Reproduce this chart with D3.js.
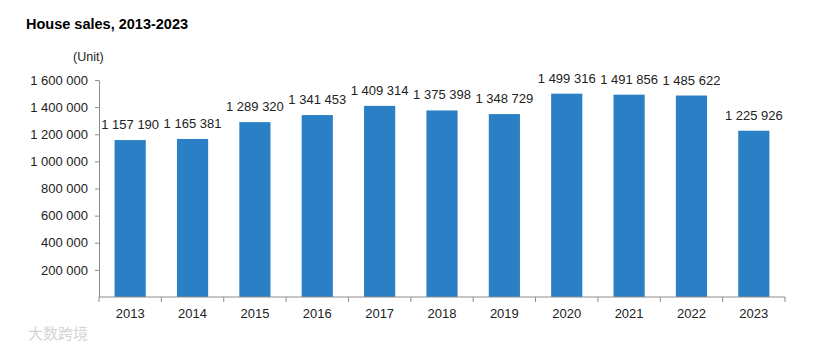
<!DOCTYPE html>
<html>
<head>
<meta charset="utf-8">
<script src="https://cdn.jsdelivr.net/npm/d3@7"></script>
<style>
	body { margin: 0; background: #fff; }
	svg { font-family: "Liberation Sans", Arial, sans-serif; }
</style>
</head>
<body>
<div id="chart"></div>
<script>
// Data
const years = ["2013", "2014", "2015", "2016", "2017", "2018", "2019", "2020", "2021", "2022", "2023"]
const sales = [1157190, 1165381, 1289320, 1341453, 1409314, 1375398, 1348729, 1499316, 1491856, 1485622, 1225926]
const yTicks = [200000, 400000, 600000, 800000, 1000000, 1200000, 1400000, 1600000]

const width = 820
const height = 351
const margin = { top: 80, right: 35, bottom: 54, left: 99 }

const fmt = (v) => d3.format(",")(v).replace(/,/g, " ")

const svg = d3
	.select("#chart")
	.append("svg")
	.attr("width", width)
	.attr("height", height)

// Title
svg.append("text")
	.attr("x", 26)
	.attr("y", 29)
	.style("font-size", "14.5px")
	.style("font-weight", "bold")
	.style("fill", "#000")
	.text("House sales, 2013-2023")

svg.append("text")
	.attr("x", 73)
	.attr("y", 61)
	.style("font-size", "12.5px")
	.style("fill", "#222")
	.text("(Unit)")

// Scales
const x = d3
	.scaleBand()
	.domain(years)
	.range([margin.left, width - margin.right])
	.paddingInner(0.5)
	.paddingOuter(0.25)

const y = d3
	.scaleLinear()
	.domain([0, 1600000])
	.range([height - margin.bottom, margin.top])

// Bars
svg.append("g")
	.selectAll("rect")
	.data(years)
	.join("rect")
	.attr("x", (d) => x(d))
	.attr("y", (d, i) => y(sales[i]))
	.attr("width", x.bandwidth())
	.attr("height", (d, i) => y(0) - y(sales[i]))
	.attr("fill", "#2b80c5")

// Value labels
svg.append("g")
	.selectAll("text")
	.data(years)
	.join("text")
	.attr("x", (d) => x(d) + x.bandwidth() / 2)
	.attr("y", (d, i) => y(sales[i]) - 11)
	.attr("text-anchor", "middle")
	.style("font-size", "13px")
	.style("fill", "#222")
	.text((d, i) => fmt(sales[i]))

// Y axis
const yAxis = svg.append("g")
	.attr("class", "y-axis")
	.attr("transform", `translate(${margin.left},0)`)
	.call(d3.axisLeft(y).tickValues(yTicks).tickSize(4).tickSizeOuter(0).tickPadding(7).tickFormat(fmt))

// X axis: ticks between categories
const step = x.step()
const xAxis = svg.append("g")
	.attr("class", "x-axis")
	.attr("transform", `translate(0,${y(0)})`)

xAxis.append("line")
	.attr("x1", margin.left)
	.attr("x2", width - margin.right)
	.attr("stroke", "#8c8c8c")

xAxis.selectAll(".tick")
	.data(d3.range(years.length + 1))
	.join("line")
	.attr("class", "tick")
	.attr("x1", (i) => margin.left + i * step)
	.attr("x2", (i) => margin.left + i * step)
	.attr("y1", 0)
	.attr("y2", 5)
	.attr("stroke", "#8c8c8c")

xAxis.selectAll("text")
	.data(years)
	.join("text")
	.attr("x", (d) => x(d) + x.bandwidth() / 2)
	.attr("y", 21)
	.attr("text-anchor", "middle")
	.style("font-size", "13px")
	.style("fill", "#222")
	.text((d) => d)

svg.selectAll(".y-axis path, .y-axis line")
	.style("stroke", "#8c8c8c")

svg.selectAll(".y-axis text")
	.style("font-size", "13px")
	.style("font-family", "Liberation Sans, Arial, sans-serif")
	.style("fill", "#222")

// Watermark
svg.append("text")
	.attr("x", 28)
	.attr("y", 339)
	.style("font-family", "Noto Sans CJK SC")
	.style("font-size", "15px")
	.style("fill", "#d4d4d4")
	.text("大数跨境")
</script>
</body>
</html>
